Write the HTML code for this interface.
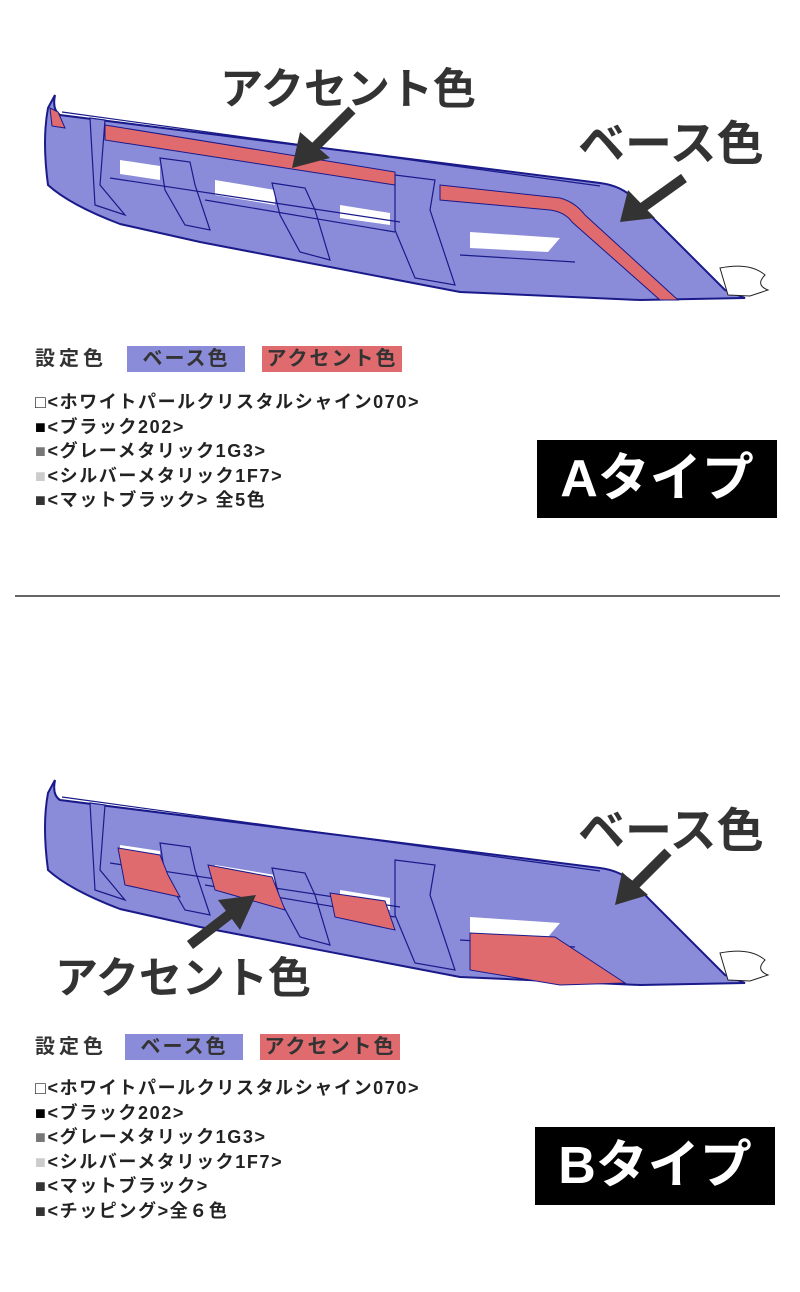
<!DOCTYPE html>
<html><head><meta charset="utf-8"><style>
body{margin:0;width:800px;height:1292px;background:#fff;position:relative;overflow:hidden;font-family:"Liberation Sans","Noto Sans CJK JP",sans-serif;}
.t{position:absolute;font-weight:bold;color:#333;white-space:nowrap;}
.sw{position:absolute;height:26px;font-weight:bold;color:#333;font-size:20px;line-height:26px;text-align:center;letter-spacing:2px;}
.list{position:absolute;font-size:18px;font-weight:bold;color:#222;line-height:24.6px;letter-spacing:1.6px;white-space:nowrap;}
.box{position:absolute;background:#000;color:#fff;font-weight:bold;font-size:52px;text-align:center;}
</style></head><body>
<svg width="800" height="1292" style="position:absolute;left:0;top:0">
<defs>
<g id="bump">
<path d="M55,95 Q52,110 60,115 L600,183 Q625,186 640,205 L725,290 L745,298 L640,300 L460,292 L200,242 L120,224 Q70,205 48,185 Q42,140 48,108 Z" fill="#8a8cd9" stroke="#1a1a8a" stroke-width="2"/>
<path d="M62,112 L600,186" stroke="#1a1a8a" stroke-width="1.2" fill="none"/>
<path d="M720,268 Q750,262 765,275 Q755,285 768,290 L750,296 L728,295 Z" fill="#fff" stroke="#222" stroke-width="1"/>
<path d="M120,160 L160,166 L160,180 L120,174 Z" fill="#fff"/>
<path d="M215,180 L275,190 L275,205 L215,195 Z" fill="#fff"/>
<path d="M340,205 L390,213 L390,225 L340,218 Z" fill="#fff"/>
<path d="M470,232 L560,238 L548,252 L470,248 Z" fill="#fff"/>
<path d="M90,118 L105,120 L100,185 L125,215 L95,205 Z" fill="#8a8cd9" stroke="#1a1a8a" stroke-width="1.2"/>
<path d="M160,158 L190,162 L195,185 L210,230 L185,225 L165,190 Z" fill="#8a8cd9" stroke="#1a1a8a" stroke-width="1.2"/>
<path d="M272,183 L305,188 L315,210 L330,260 L300,252 L280,215 Z" fill="#8a8cd9" stroke="#1a1a8a" stroke-width="1.2"/>
<path d="M395,175 L435,180 L430,210 L455,285 L415,278 L395,230 Z" fill="#8a8cd9" stroke="#1a1a8a" stroke-width="1.2"/>
<path d="M110,178 L400,222 M205,200 L395,232 M460,255 L575,262" stroke="#1a1a8a" stroke-width="1.2" fill="none"/>
</g>
</defs>
<use href="#bump"/>
<path d="M50,108 L58,112 L65,128 L52,126 Z M105,125 L395,172 L395,185 L105,140 Z M440,185 L560,198 Q575,202 585,215 L678,300 L660,300 L572,222 Q565,212 550,210 L440,200 Z" fill="#e06b6f" stroke="#1a1a8a" stroke-width="1"/>
<g transform="translate(0,685)">
<use href="#bump"/>
<path d="M118,163 L160,170 L168,190 L180,212 L125,200 Z M208,180 L272,192 L285,225 L215,205 Z M330,208 L385,216 L395,245 L335,232 Z M470,248 L555,252 L625,298 L560,300 L470,285 Z" fill="#e06b6f" stroke="#1a1a8a" stroke-width="1"/>
</g>
<g stroke="#333" stroke-width="10" fill="#333">
<line x1="352" y1="110" x2="312" y2="150"/><polygon points="292,168 300,132 330,158" stroke="none"/>
<line x1="684" y1="178" x2="642" y2="208"/><polygon points="620,222 628,190 655,218" stroke="none"/>
<line x1="668" y1="852" x2="635" y2="885"/><polygon points="615,905 622,872 648,895" stroke="none"/>
<line x1="190" y1="945" x2="230" y2="914"/><polygon points="256,895 218,900 240,930" stroke="none"/>
</g>
<line x1="15" y1="596" x2="780" y2="596" stroke="#666" stroke-width="2"/>
</svg>
<div class="t" style="left:220px;top:55px;font-size:43px;">アクセント色</div>
<div class="t" style="left:578px;top:105px;font-size:47px;">ベース色</div>
<div class="t" style="left:578px;top:792px;font-size:47px;">ベース色</div>
<div class="t" style="left:55px;top:944px;font-size:43px;">アクセント色</div>

<div class="t" style="left:35px;top:346px;font-size:20px;line-height:26px;letter-spacing:4px;">設定色</div>
<div class="sw" style="left:127px;top:346px;width:118px;background:#8a8cd9;">ベース色</div>
<div class="sw" style="left:262px;top:346px;width:140px;background:#e06b6f;">アクセント色</div>
<div class="list" style="left:35px;top:390px;">□&lt;ホワイトパールクリスタルシャイン070&gt;<br><span style="color:#000">■</span>&lt;ブラック202&gt;<br><span style="color:#777">■</span>&lt;グレーメタリック1G3&gt;<br><span style="color:#ccc">■</span>&lt;シルバーメタリック1F7&gt;<br><span style="color:#333">■</span>&lt;マットブラック&gt; 全5色</div>
<div class="box" style="left:537px;top:440px;width:240px;height:78px;line-height:78px;">Aタイプ</div>

<div class="t" style="left:35px;top:1034px;font-size:20px;line-height:26px;letter-spacing:4px;">設定色</div>
<div class="sw" style="left:125px;top:1034px;width:118px;background:#8a8cd9;">ベース色</div>
<div class="sw" style="left:260px;top:1034px;width:140px;background:#e06b6f;">アクセント色</div>
<div class="list" style="left:35px;top:1076px;">□&lt;ホワイトパールクリスタルシャイン070&gt;<br><span style="color:#000">■</span>&lt;ブラック202&gt;<br><span style="color:#777">■</span>&lt;グレーメタリック1G3&gt;<br><span style="color:#ccc">■</span>&lt;シルバーメタリック1F7&gt;<br><span style="color:#333">■</span>&lt;マットブラック&gt;<br><span style="color:#333">■</span>&lt;チッピング&gt;全６色</div>
<div class="box" style="left:535px;top:1127px;width:240px;height:78px;line-height:78px;">Bタイプ</div>
</body></html>
